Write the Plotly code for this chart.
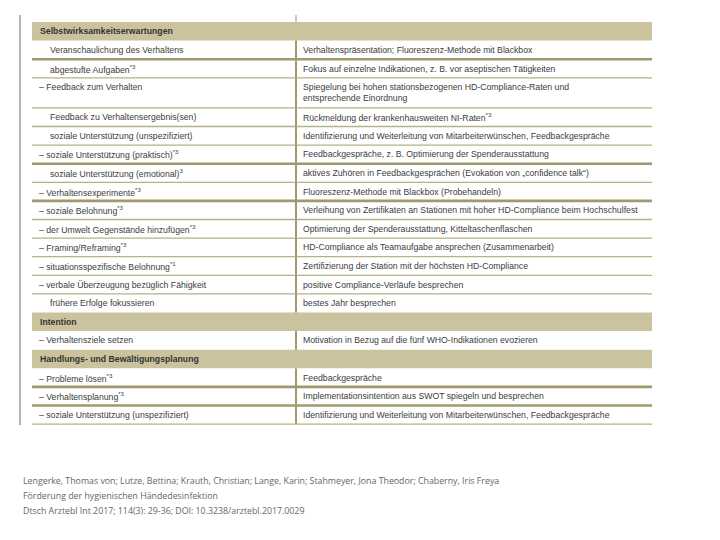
import plotly.graph_objects as go

# ---------------- data (table content) ----------------
left_col = [
    "Selbstwirksamkeitserwartungen",
    "Veranschaulichung des Verhaltens",
    "abgestufte Aufgaben<sup>*3</sup>",
    "– Feedback zum Verhalten",
    "Feedback zu Verhaltensergebnis(sen)",
    "soziale Unterstützung (unspezifiziert)",
    "– soziale Unterstützung (praktisch)<sup>*3</sup>",
    "soziale Unterstützung (emotional)<sup>3</sup>",
    "– Verhaltensexperimente<sup>*3</sup>",
    "– soziale Belohnung<sup>*3</sup>",
    "– der Umwelt Gegenstände hinzufügen<sup>*3</sup>",
    "– Framing/Reframing<sup>*3</sup>",
    "– situationsspezifische Belohnung<sup>*1</sup>",
    "– verbale Überzeugung bezüglich Fähigkeit",
    "frühere Erfolge fokussieren",
    "Intention",
    "– Verhaltensziele setzen",
    "Handlungs- und Bewältigungsplanung",
    "– Probleme lösen<sup>*3</sup>",
    "– Verhaltensplanung<sup>*3</sup>",
    "– soziale Unterstützung (unspezifiziert)",
]
right_col = [
    "",
    "Verhaltenspräsentation; Fluoreszenz-Methode mit Blackbox",
    "Fokus auf einzelne Indikationen, z. B. vor aseptischen Tätigkeiten",
    "Spiegelung bei hohen stationsbezogenen HD-Compliance-Raten und<br>entsprechende Einordnung",
    "Rückmeldung der krankenhausweiten NI-Raten<sup>*3</sup>",
    "Identifizierung und Weiterleitung von Mitarbeiterwünschen, Feedbackgespräche",
    "Feedbackgespräche, z. B. Optimierung der Spenderausstattung",
    "aktives Zuhören in Feedbackgesprächen (Evokation von „confidence talk“)",
    "Fluoreszenz-Methode mit Blackbox (Probehandeln)",
    "Verleihung von Zertifikaten an Stationen mit hoher HD-Compliance beim Hochschulfest",
    "Optimierung der Spenderausstattung, Kitteltaschenflaschen",
    "HD-Compliance als Teamaufgabe ansprechen (Zusammenarbeit)",
    "Zertifizierung der Station mit der höchsten HD-Compliance",
    "positive Compliance-Verläufe besprechen",
    "bestes Jahr besprechen",
    "",
    "Motivation in Bezug auf die fünf WHO-Indikationen evozieren",
    "",
    "Feedbackgespräche",
    "Implementationsintention aus SWOT spiegeln und besprechen",
    "Identifizierung und Weiterleitung von Mitarbeiterwünschen, Feedbackgespräche",
]
row_is_section = [True, False, False, False, False, False, False, False, False, False,
                  False, False, False, False, False, True, False, True, False, False, False]
# rows whose bottom border is drawn heavier
thick_border_after = [1, 6, 8, 18, 19]

footer_lines = [
    "Lengerke, Thomas von; Lutze, Bettina; Krauth, Christian; Lange, Karin; Stahmeyer, Jona Theodor; Chaberny, Iris Freya",
    "Förderung der hygienischen Händedesinfektion",
    "Dtsch Arztebl Int 2017; 114(3): 29-36; DOI: 10.3238/arztebl.2017.0029",
]

# ---------------- layout / style ----------------
W, H = 720, 540
PAGE_OFF = 8  # browser body margin
X0, XMID, X1 = 32, 296, 652
TOP = 22.0
UNIT = 18.6
DOUBLE = 30.1
HEAD_FILL = "#cbc39e"
LINE_THIN = "#b8b08a"
LINE_THICK = "#a0996f"
TXT = "#3c3c3c"
FONT = "Liberation Sans, Arial, sans-serif"
FS = 8.7

fig = go.Figure()
shapes = []
annotations = []

# compute row tops
tops = []
y = TOP
for r in right_col:
    tops.append(y)
    y += DOUBLE if "<br>" in r else UNIT
bottom = y

# left dark frame line and small divider tick above the table
shapes.append(dict(type="line", x0=20, x1=20, y0=15, y1=bottom + 1,
                   line=dict(color="#6a6a6a", width=1)))
shapes.append(dict(type="line", x0=XMID, x1=XMID, y0=15, y1=TOP,
                   line=dict(color="#999999", width=1)))

for i, (lt, rt) in enumerate(zip(left_col, right_col)):
    t = tops[i]
    h = DOUBLE if "<br>" in rt else UNIT
    b = t + h
    if row_is_section[i]:
        shapes.append(dict(type="rect", x0=X0, x1=X1, y0=t, y1=b,
                           fillcolor=HEAD_FILL, line=dict(width=0), layer="below"))
        annotations.append(dict(x=X0 + 6, y=t + h / 2, text="<b>" + lt + "</b>",
                                xanchor="left", yanchor="middle", showarrow=False,
                                font=dict(family=FONT, size=FS, color="#333333")))
    else:
        shapes.append(dict(type="line", x0=XMID, x1=XMID, y0=t, y1=b,
                           line=dict(color=LINE_THICK, width=2)))
        lx = X0 + 5 if lt.startswith("–") else X0 + 16
        annotations.append(dict(x=lx, y=t + UNIT / 2, text=lt,
                                xanchor="left", yanchor="middle", showarrow=False,
                                font=dict(family=FONT, size=FS, color=TXT)))
        annotations.append(dict(x=XMID + 5, y=t + h / 2, text=rt,
                                xanchor="left", yanchor="middle", showarrow=False,
                                align="left",
                                font=dict(family=FONT, size=FS, color=TXT)))
        nxt_section = i + 1 < len(row_is_section) and row_is_section[i + 1]
        if not nxt_section:
            thick = i in thick_border_after
            shapes.append(dict(type="line", x0=X0, x1=X1, y0=b, y1=b,
                               line=dict(color=LINE_THICK if thick else LINE_THIN,
                                         width=2.6 if thick else 1.3)))

for k, line in enumerate(footer_lines):
    annotations.append(dict(x=21, y=481 + 15 * k, text=line, xanchor="left",
                            yanchor="middle", showarrow=False,
                            font=dict(family="Open Sans, sans-serif", size=8.8,
                                      color="#666666")))

fig.update_layout(
    width=W, height=H,
    margin=dict(l=0, r=0, t=0, b=0),
    paper_bgcolor="white", plot_bgcolor="white",
    xaxis=dict(range=[PAGE_OFF, W + PAGE_OFF], visible=False, fixedrange=True),
    yaxis=dict(range=[H + PAGE_OFF, PAGE_OFF], visible=False, fixedrange=True),
    shapes=shapes, annotations=annotations, showlegend=False,
)

fig.write_html("out.html")
